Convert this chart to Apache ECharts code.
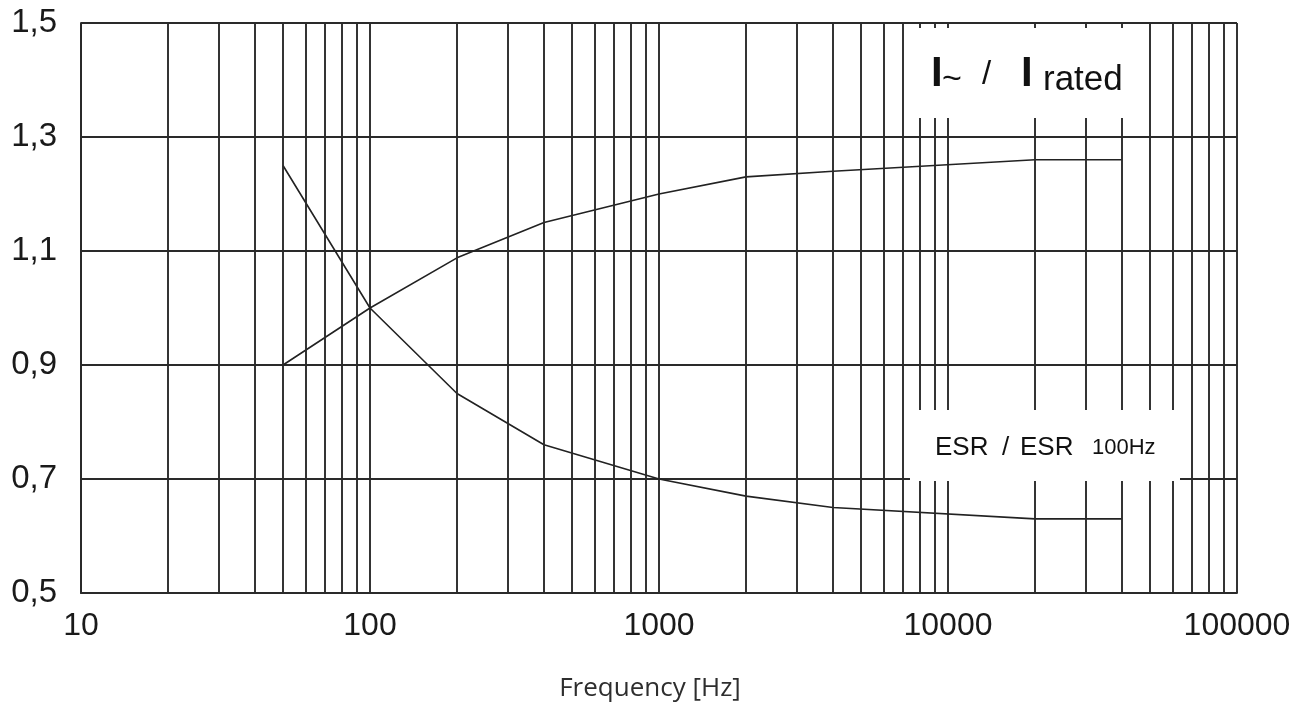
<!DOCTYPE html>
<html>
<head>
<meta charset="utf-8">
<script src="https://cdn.jsdelivr.net/npm/echarts@6/dist/echarts.min.js"></script>
<style>
html,body{margin:0;padding:0;background:#fff;}
#chart{width:1312px;height:711px;}
</style>
</head>
<body>
<div id="chart"></div>
<script>
// ---- data ----
const frequencies = [50, 100, 200, 400, 1000, 2000, 4000, 20000, 40000];
const currentRatio = [0.90, 1.00, 1.088, 1.15, 1.20, 1.23, 1.24, 1.26, 1.26];   // I~ / I rated
const esrRatio = [1.25, 1.00, 0.85, 0.76, 0.70, 0.67, 0.65, 0.63, 0.63];        // ESR / ESR 100Hz
const xTickLabels = ['10', '100', '1000', '10000', '100000'];
const minorGridFreqs = [20, 30, 40, 50, 60, 70, 80, 90,
                        200, 300, 400, 500, 600, 700, 800, 900,
                        2000, 3000, 4000, 5000, 6000, 7000, 8000, 9000,
                        20000, 30000, 40000, 50000, 60000, 70000, 80000, 90000];
const xAxisTitle = 'Frequency [Hz]';

const LINE = '#2a2a2a';
const GRIDW = 1.9;
const chart = echarts.init(document.getElementById('chart'), null, {renderer: 'canvas'});

const option = {
  animation: false,
  backgroundColor: '#ffffff',
  grid: {left: 81, right: 75, top: 23, bottom: 118, containLabel: false},
  xAxis: {
    type: 'log', logBase: 10, min: 10, max: 100000,
    axisLine: {show: true, onZero: false, lineStyle: {color: LINE, width: GRIDW}},
    axisTick: {show: false},
    splitLine: {show: true, lineStyle: {color: LINE, width: GRIDW}},
    axisLabel: {
      margin: 17, fontSize: 32, color: '#1a1a1a', fontFamily: 'Liberation Sans',
      formatter: function (v) {
        const idx = Math.round(Math.log10(v)) - 1;
        return xTickLabels[idx] !== undefined ? xTickLabels[idx] : '';
      }
    }
  },
  yAxis: {
    type: 'value', min: 0.5, max: 1.5, interval: 0.2,
    axisLine: {show: true, lineStyle: {color: LINE, width: GRIDW}},
    axisTick: {show: false},
    splitLine: {show: true, lineStyle: {color: LINE, width: GRIDW}},
    axisLabel: {
      margin: 24, fontSize: 33, color: '#1a1a1a', fontFamily: 'Liberation Sans',
      formatter: function (v) { return v.toFixed(1).replace('.', ','); }
    }
  },
  series: [
    {
      name: 'I~ / I rated', type: 'line', symbol: 'none',
      data: frequencies.map((f, i) => [f, currentRatio[i]]),
      lineStyle: {color: '#222', width: 1.6},
      markLine: {
        silent: true, symbol: ['none', 'none'], animation: false,
        label: {show: false},
        lineStyle: {color: LINE, width: GRIDW, type: 'solid'},
        emphasis: {disabled: true},
        data: minorGridFreqs.map(f => ({xAxis: f}))
      }
    },
    {
      name: 'ESR / ESR 100Hz', type: 'line', symbol: 'none',
      data: frequencies.map((f, i) => [f, esrRatio[i]]),
      lineStyle: {color: '#222', width: 1.6}
    }
  ],
  graphic: [
    {type: 'rect', z: 100, shape: {x: 908, y: 28, width: 238, height: 90}, style: {fill: '#fff'}},
    {type: 'rect', z: 100, shape: {x: 910, y: 410, width: 270, height: 71}, style: {fill: '#fff'}},
    {type: 'text', z: 101, x: 931, y: 74, style: {text: 'I', fontSize: 42, fontWeight: 'bold', fontFamily: 'Liberation Sans', fill: '#111', verticalAlign: 'middle'}},
    {type: 'text', z: 101, x: 942, y: 80, style: {text: '~', fontSize: 34, fontFamily: 'Liberation Sans', fill: '#111', verticalAlign: 'middle'}},
    {type: 'text', z: 101, x: 982, y: 75, style: {text: '/', fontSize: 33, fontFamily: 'Liberation Sans', fill: '#111', verticalAlign: 'middle'}},
    {type: 'text', z: 101, x: 1021, y: 74, style: {text: 'I', fontSize: 42, fontWeight: 'bold', fontFamily: 'Liberation Sans', fill: '#111', verticalAlign: 'middle'}},
    {type: 'text', z: 101, x: 1043, y: 80, style: {text: 'rated', fontSize: 35, fontFamily: 'Liberation Sans', fill: '#111', verticalAlign: 'middle'}},
    {type: 'text', z: 101, x: 935, y: 448, style: {text: 'ESR', fontSize: 26, fontFamily: 'Liberation Sans', fill: '#111', verticalAlign: 'middle'}},
    {type: 'text', z: 101, x: 1002, y: 448, style: {text: '/', fontSize: 26, fontFamily: 'Liberation Sans', fill: '#111', verticalAlign: 'middle'}},
    {type: 'text', z: 101, x: 1020, y: 448, style: {text: 'ESR', fontSize: 26, fontFamily: 'Liberation Sans', fill: '#111', verticalAlign: 'middle'}},
    {type: 'text', z: 101, x: 1092, y: 448, style: {text: '100Hz', fontSize: 22, fontFamily: 'Liberation Sans', fill: '#111', verticalAlign: 'middle'}},
    {type: 'text', z: 101, x: 650, y: 689, style: {text: xAxisTitle, fontSize: 26, fontFamily: 'Open Sans', fill: '#2e2e2e', align: 'center', verticalAlign: 'middle'}}
  ]
};
chart.setOption(option);
</script>
</body>
</html>
